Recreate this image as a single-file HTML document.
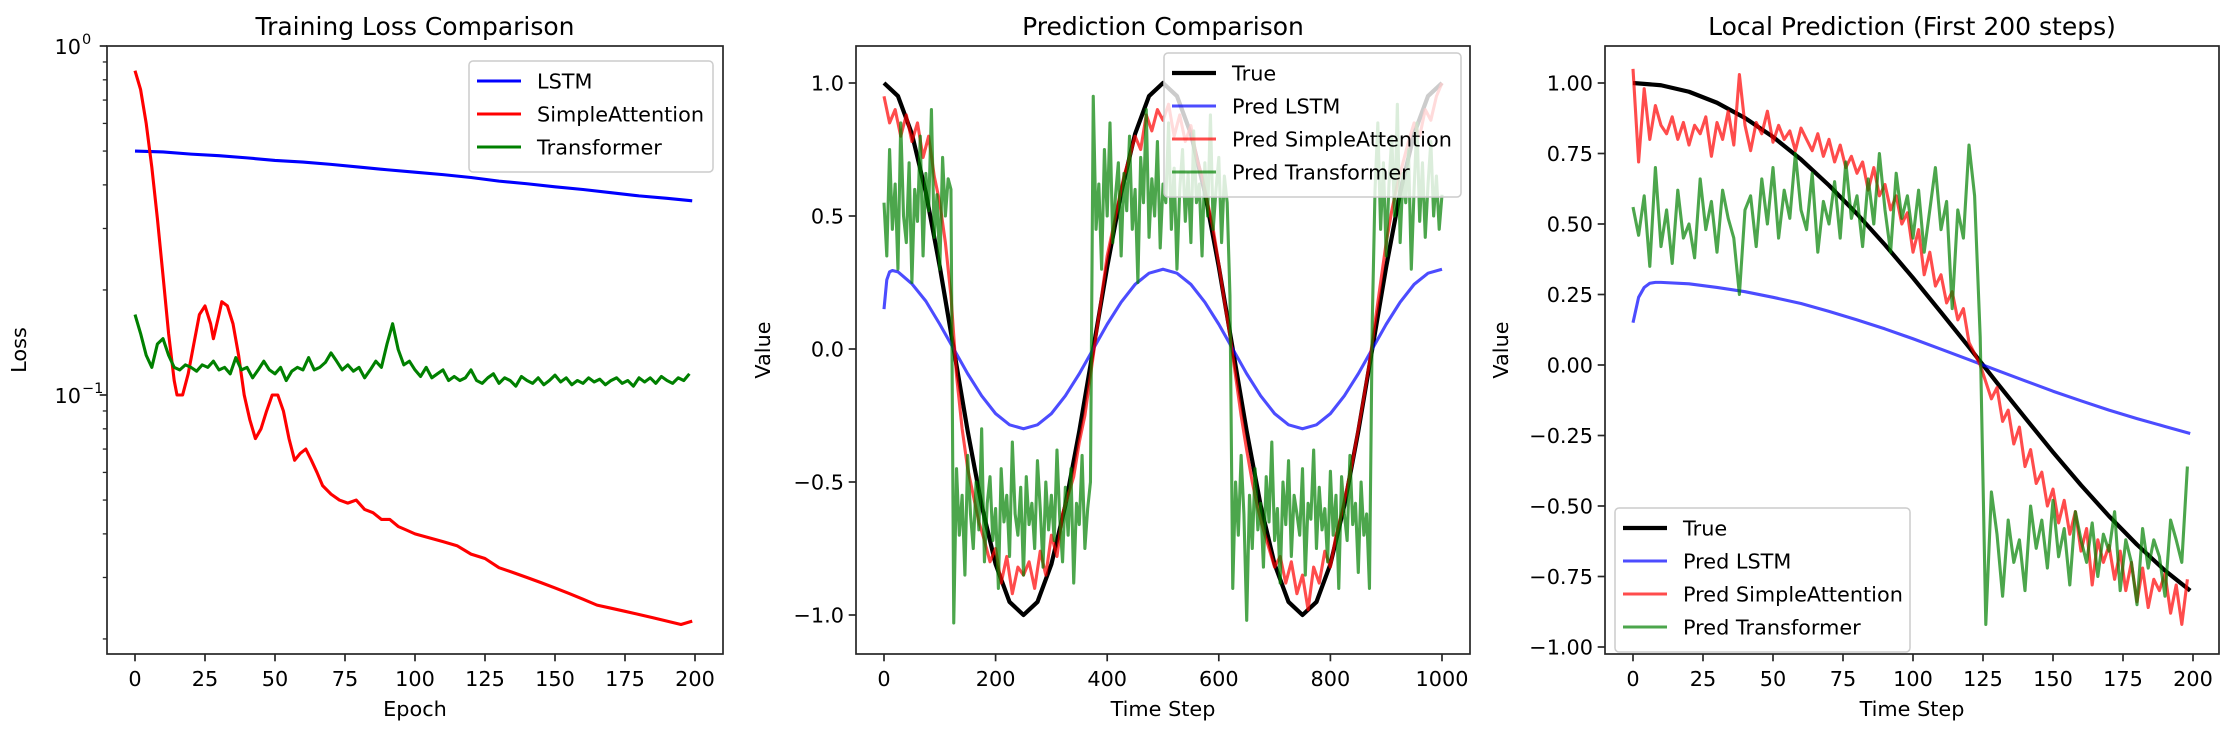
<!DOCTYPE html>
<html><head><meta charset="utf-8"><style>
html,body{margin:0;padding:0;background:#fff;}
svg{display:block;font-family:"DejaVu Sans","Liberation Sans",sans-serif;}
</style></head><body>
<svg id="fig" width="2234" height="732" viewBox="0 0 2234 732" xmlns="http://www.w3.org/2000/svg"></svg>
<script>
// ---------- Panel 1 data ----------
const lstmEpochs=[0,10,20,30,40,50,60,70,80,90,100,110,120,130,140,150,160,170,180,190,199];
const lstmLoss=[0.50,0.497,0.49,0.485,0.478,0.47,0.465,0.458,0.45,0.442,0.435,0.428,0.42,0.41,0.403,0.395,0.388,0.38,0.372,0.366,0.36];
const redEpochs=[0,2,4,6,8,10,12,14,15,17,19,21,23,25,27,28,30,31,33,35,37,39,41,43,45,47,49,51,53,55,57,59,61,63,65,67,70,73,76,79,82,85,88,91,94,97,100,105,110,115,120,125,130,135,140,145,150,155,160,165,170,175,180,185,190,195,199];
const redLoss=[0.85,0.75,0.6,0.45,0.32,0.22,0.15,0.11,0.10,0.10,0.115,0.14,0.17,0.18,0.16,0.145,0.17,0.185,0.18,0.16,0.13,0.10,0.085,0.075,0.08,0.09,0.10,0.10,0.09,0.075,0.065,0.068,0.07,0.065,0.06,0.055,0.052,0.05,0.049,0.05,0.047,0.046,0.044,0.044,0.042,0.041,0.040,0.039,0.038,0.037,0.035,0.034,0.032,0.031,0.030,0.029,0.028,0.027,0.026,0.025,0.0245,0.024,0.0235,0.023,0.0225,0.022,0.0225];
const greenLoss=[0.17,0.15,0.13,0.12,0.14,0.145,0.13,0.12,0.118,0.122,0.12,0.117,0.122,0.12,0.125,0.118,0.12,0.115,0.128,0.118,0.12,0.112,0.118,0.125,0.118,0.115,0.12,0.11,0.117,0.12,0.118,0.128,0.118,0.12,0.124,0.132,0.125,0.118,0.122,0.117,0.12,0.112,0.118,0.125,0.12,0.14,0.16,0.135,0.122,0.125,0.118,0.113,0.12,0.112,0.115,0.118,0.11,0.113,0.11,0.112,0.118,0.11,0.108,0.112,0.115,0.108,0.112,0.11,0.106,0.113,0.11,0.108,0.112,0.107,0.11,0.114,0.109,0.112,0.107,0.11,0.108,0.112,0.109,0.111,0.107,0.11,0.112,0.108,0.11,0.106,0.112,0.109,0.112,0.108,0.113,0.11,0.108,0.112,0.11,0.115];
const greenEpochStep=2;
const p1XTicks=[0,25,50,75,100,125,150,175,200];
// ---------- Panel 2 data ----------
const trueStep2=25;
const trueVals2=[1,0.951,0.809,0.588,0.309,0,-0.309,-0.588,-0.809,-0.951,-1,-0.951,-0.809,-0.588,-0.309,0,0.309,0.588,0.809,0.951,1,0.951,0.809,0.588,0.309,0,-0.309,-0.588,-0.809,-0.951,-1,-0.951,-0.809,-0.588,-0.309,0,0.309,0.588,0.809,0.951,1];
const lstmT2=[0,5,10,15,25,50,75,100,125,150,175,200,225,250,275,300,325,350,375,400,425,450,475,500,525,550,575,600,625,650,675,700,725,750,775,800,825,850,875,900,925,950,975,1000];
const lstmVals2=[0.15,0.26,0.29,0.295,0.29,0.245,0.18,0.093,0,-0.093,-0.176,-0.243,-0.285,-0.30,-0.285,-0.243,-0.176,-0.093,0,0.093,0.176,0.243,0.285,0.30,0.285,0.243,0.176,0.093,0,-0.093,-0.176,-0.243,-0.285,-0.30,-0.285,-0.243,-0.176,-0.093,0,0.093,0.176,0.243,0.285,0.30];
const redStep2=10;
const redVals2=[0.95,0.85,0.90,0.80,0.88,0.78,0.85,0.72,0.80,0.65,0.55,0.40,0.20,
-0.1,-0.3,-0.45,-0.55,-0.65,-0.72,-0.80,-0.75,-0.88,-0.78,-0.92,-0.82,-0.85,
-0.80,-0.90,-0.76,-0.85,-0.70,-0.78,-0.62,-0.55,-0.48,-0.35,-0.25,-0.10,
0.05,0.20,0.35,0.45,0.55,0.65,0.72,0.80,0.75,0.88,0.82,0.90,0.86,0.92,0.80,0.88,0.78,0.84,0.72,0.65,0.55,0.45,0.32,0.18,0.05,
-0.10,-0.25,-0.38,-0.50,-0.60,-0.68,-0.75,-0.82,-0.78,-0.88,-0.80,-0.92,-0.85,-0.98,-0.82,-0.88,-0.76,-0.82,-0.70,-0.62,-0.52,-0.42,-0.30,-0.18,-0.05,
0.10,0.25,0.40,0.52,0.62,0.70,0.78,0.85,0.80,0.90,0.86,0.95,1.0];
const greenStep2=5;
const greenVals2=[0.55,0.35,0.75,0.45,0.62,0.30,0.85,0.50,0.40,0.70,0.25,0.60,0.48,0.80,0.35,0.66,0.52,0.90,0.42,0.58,0.30,0.72,0.50,0.64,0.60,
-1.03,-0.45,-0.70,-0.55,-0.85,-0.40,-0.62,-0.75,-0.50,-0.68,-0.30,-0.80,-0.58,-0.48,-0.72,-0.60,-0.90,-0.45,-0.65,-0.55,-0.78,-0.35,-0.62,-0.70,-0.52,-0.85,-0.48,-0.66,-0.58,-0.75,-0.42,-0.60,-0.82,-0.50,-0.68,-0.55,-0.72,-0.38,-0.64,-0.80,-0.52,-0.70,-0.45,-0.88,-0.58,-0.66,-0.40,-0.75,-0.60,-0.50,
0.95,0.45,0.62,0.30,0.75,0.50,0.85,0.40,0.58,0.70,0.35,0.66,0.52,0.80,0.45,0.60,0.25,0.72,0.55,0.90,0.42,0.64,0.50,0.78,0.38,0.62,0.55,0.85,0.45,0.68,0.30,0.60,0.75,0.48,0.66,0.40,0.82,0.55,0.62,0.35,0.70,0.50,0.88,0.45,0.60,0.72,0.40,0.65,0.55,0.20,
-0.90,-0.50,-0.70,-0.40,-0.62,-1.02,-0.55,-0.75,-0.45,-0.68,-0.58,-0.82,-0.48,-0.65,-0.35,-0.72,-0.60,-0.88,-0.50,-0.66,-0.42,-0.78,-0.55,-0.62,-0.70,-0.45,-0.85,-0.58,-0.64,-0.38,-0.75,-0.52,-0.68,-0.60,-0.80,-0.46,-0.70,-0.55,-0.90,-0.48,-0.62,-0.72,-0.40,-0.66,-0.58,-0.84,-0.50,-0.70,-0.62,-0.90,
0.10,0.60,0.85,0.45,0.70,0.35,0.62,0.80,0.50,0.92,0.40,0.66,0.55,0.75,0.30,0.60,0.85,0.48,0.70,0.42,0.62,0.78,0.50,0.65,0.45,0.58];
const p2XTicks=[0,200,400,600,800,1000];
const p2YTicks=[-1.0,-0.5,0.0,0.5,1.0];
// ---------- Panel 3 data ----------
const trueStep3=10;
const trueVals3=[1,0.992,0.969,0.930,0.876,0.809,0.729,0.637,0.536,0.426,0.309,0.187,0.063,-0.063,-0.187,-0.309,-0.426,-0.536,-0.637,-0.729,-0.80];
const lstmT3=[0,2,4,6,8,10,20,30,40,50,60,70,80,90,100,110,120,130,140,150,160,170,180,190,199];
const lstmVals3=[0.15,0.24,0.275,0.29,0.293,0.293,0.288,0.275,0.26,0.24,0.218,0.19,0.16,0.128,0.093,0.056,0.019,-0.019,-0.056,-0.093,-0.127,-0.16,-0.19,-0.218,-0.243];
const step3=2;
const redVals3=[1.05,0.72,0.98,0.80,0.92,0.85,0.82,0.88,0.80,0.86,0.78,0.85,0.82,0.88,0.74,0.86,0.80,0.90,0.78,1.03,0.85,0.76,0.86,0.82,0.90,0.79,0.85,0.80,0.83,0.76,0.84,0.80,0.76,0.82,0.74,0.80,0.72,0.78,0.70,0.74,0.68,0.72,0.62,0.70,0.60,0.64,0.55,0.60,0.50,0.54,0.40,0.48,0.32,0.40,0.28,0.32,0.22,0.26,0.16,0.20,0.08,0.04,0.00,-0.06,-0.12,-0.08,-0.20,-0.16,-0.28,-0.22,-0.36,-0.30,-0.42,-0.38,-0.50,-0.44,-0.56,-0.48,-0.60,-0.52,-0.66,-0.58,-0.78,-0.62,-0.70,-0.64,-0.76,-0.66,-0.80,-0.70,-0.84,-0.72,-0.86,-0.76,-0.80,-0.74,-0.88,-0.78,-0.92,-0.76];
const greenVals3=[0.56,0.46,0.60,0.35,0.70,0.42,0.55,0.36,0.62,0.45,0.50,0.38,0.66,0.48,0.58,0.40,0.62,0.52,0.45,0.25,0.55,0.60,0.42,0.66,0.50,0.70,0.45,0.62,0.52,0.75,0.55,0.48,0.68,0.40,0.58,0.50,0.65,0.45,0.72,0.52,0.60,0.42,0.66,0.50,0.75,0.55,0.40,0.68,0.52,0.60,0.45,0.62,0.40,0.55,0.70,0.48,0.58,0.20,0.55,0.45,0.78,0.60,0.10,-0.92,-0.45,-0.60,-0.82,-0.55,-0.70,-0.62,-0.80,-0.50,-0.65,-0.55,-0.72,-0.48,-0.68,-0.58,-0.78,-0.52,-0.62,-0.70,-0.56,-0.75,-0.60,-0.66,-0.52,-0.80,-0.62,-0.70,-0.85,-0.58,-0.72,-0.62,-0.68,-0.82,-0.55,-0.62,-0.70,-0.36];
const p3XTicks=[0,25,50,75,100,125,150,175,200];
const p3YTicks=[-1.0,-0.75,-0.5,-0.25,0,0.25,0.5,0.75,1.0];

const NS="http://www.w3.org/2000/svg";
const svg=document.getElementById('fig');
function mk(tag,attrs,parent,text){const e=document.createElementNS(NS,tag);for(const k in attrs)e.setAttribute(k,attrs[k]);if(text!==undefined)e.textContent=text;(parent||svg).appendChild(e);return e;}
function pathD(xs,ys){return xs.map((x,i)=>(i?'L':'M')+x.toFixed(2)+' '+ys[i].toFixed(2)).join(' ');}

const TOP=46,BOT=654;
function linePlot(g,xs,ys,fx,fy,color,w,op,name){
  const p=mk('path',{d:pathD(xs.map(fx),ys.map(fy)),fill:'none',stroke:color,'stroke-width':w,'stroke-opacity':op,'stroke-linejoin':'round'},g);
  
  
  return p;
}
function frame(g,L,R){
  const r=mk('rect',{x:L,y:TOP,width:R-L,height:BOT-TOP,fill:'none',stroke:'#262626','stroke-width':1.7},g);
  
  
}
function xTicks(g,ticks,fx,fmt){
  ticks.forEach(t=>{const x=fx(t);
    mk('line',{x1:x,x2:x,y1:BOT,y2:BOT+7.3,stroke:'#262626','stroke-width':1.7},g);
    const tx=mk('text',{x:x,y:BOT+32,'font-size':20.8,'text-anchor':'middle',fill:'#000'},g,fmt(t));
    
    
  });
}
function yTicks(g,L,ticks,fy,fmt){
  ticks.forEach(t=>{const y=fy(t);
    mk('line',{x1:L,x2:L-7.3,y1:y,y2:y,stroke:'#262626','stroke-width':1.7},g);
    const tx=mk('text',{x:L-12,y:y+7.5,'font-size':20.8,'text-anchor':'end',fill:'#000'},g,fmt(t));
    
    
  });
}
function labels(g,L,R,title,xl,yl,ylx){
  const t=mk('text',{x:(L+R)/2,y:35,'font-size':25,'text-anchor':'middle'},g,title);
  
  
  const x=mk('text',{x:(L+R)/2,y:716,'font-size':20.8,'text-anchor':'middle'},g,xl);
  
  
  const y=mk('text',{x:ylx,y:(TOP+BOT)/2,'font-size':20.8,'text-anchor':'middle',transform:`rotate(-90 ${ylx} ${(TOP+BOT)/2})`},g,yl);
  
  
}
function legend(g,x,y,w,entries){
  const h=entries.length*33+12;
  const r=mk('rect',{x:x,y:y,width:w,height:h,rx:4,fill:'#fff','fill-opacity':0.8,stroke:'#cccccc','stroke-width':1.5},g);
  
  
  entries.forEach((e,i)=>{const cy=y+20+i*33;
    const eg=mk('g',{},g);
    
    
    mk('line',{x1:x+8,x2:x+52,y1:cy,y2:cy,stroke:e[1],'stroke-width':e[2],'stroke-opacity':e[3]},eg);
    mk('text',{x:x+68,y:cy+7.5,'font-size':20.8},eg,e[0]);
  });
}

// ===== Panel 1 =====
(function(){
  const L=107,R=723;
  const g=mk('g',{});
  const fx=e=>135+e*2.8;
  const fy=v=>TOP-Math.log10(v)*349;
  labels(g,L,R,'Training Loss Comparison','Epoch','Loss',26);
  const gEp=greenLoss.map((_,i)=>i*greenEpochStep);
  linePlot(g,lstmEpochs,lstmLoss,fx,fy,'#0000ff',3.1,1,'lstm-loss-line');
  linePlot(g,redEpochs,redLoss,fx,fy,'#ff0000',3.1,1,'simpleattention-loss-line');
  linePlot(g,gEp,greenLoss,fx,fy,'#008000',3.1,1,'transformer-loss-line');
  frame(g,L,R);
  xTicks(g,p1XTicks,fx,t=>String(t));
  [[1,'10','0'],[0.1,'10','−1']].forEach(d=>{const y=fy(d[0]);
    mk('line',{x1:L,x2:L-7.3,y1:y,y2:y,stroke:'#262626','stroke-width':1.7},g);
    const t=mk('text',{x:L-26,y:y+8,'font-size':20.8,'text-anchor':'end'},g,d[1]);
    
    
    mk('text',{x:L-25,y:y-2,'font-size':14.5,'text-anchor':'start'},g,d[2]);
  });
  [0.02,0.03,0.04,0.05,0.06,0.07,0.08,0.09,0.2,0.3,0.4,0.5,0.6,0.7,0.8,0.9].forEach(v=>{const y=fy(v);
    mk('line',{x1:L,x2:L-4.2,y1:y,y2:y,stroke:'#262626','stroke-width':1.3},g);});
  legend(g,469,61,244,[['LSTM','#0000ff',3.1,1],['SimpleAttention','#ff0000',3.1,1],['Transformer','#008000',3.1,1]]);
})();

// ===== Panel 2 =====
(function(){
  const L=856,R=1470;
  const g=mk('g',{});
  const fx=t=>884+t*0.558;
  const fy=v=>83+(1-v)*266;
  labels(g,L,R,'Prediction Comparison','Time Step','Value',770);
  linePlot(g,trueVals2.map((_,i)=>i*trueStep2),trueVals2,fx,fy,'#000',4.2,1,'true-line');
  linePlot(g,lstmT2,lstmVals2,fx,fy,'#0000ff',3.1,0.7,'pred-lstm-line');
  linePlot(g,redVals2.map((_,i)=>i*redStep2),redVals2,fx,fy,'#ff0000',3.1,0.7,'pred-simpleattention-line');
  linePlot(g,greenVals2.map((_,i)=>i*greenStep2),greenVals2,fx,fy,'#008000',3.1,0.7,'pred-transformer-line');
  frame(g,L,R);
  xTicks(g,p2XTicks,fx,t=>String(t));
  yTicks(g,L,p2YTicks,fy,t=>(t<0?'−':'')+Math.abs(t).toFixed(1));
  legend(g,1164,53,297,[['True','#000',4.2,1],['Pred LSTM','#0000ff',3.1,0.7],['Pred SimpleAttention','#ff0000',3.1,0.7],['Pred Transformer','#008000',3.1,0.7]]);
})();

// ===== Panel 3 =====
(function(){
  const L=1605,R=2219;
  const g=mk('g',{});
  const fx=t=>1633+t*2.8;
  const fy=v=>83+(1-v)*282;
  labels(g,L,R,'Local Prediction (First 200 steps)','Time Step','Value',1508);
  linePlot(g,trueVals3.map((_,i)=>Math.min(i*trueStep3,199)),trueVals3,fx,fy,'#000',4.2,1,'true-line');
  linePlot(g,lstmT3,lstmVals3,fx,fy,'#0000ff',3.1,0.7,'pred-lstm-line');
  linePlot(g,redVals3.map((_,i)=>i*step3),redVals3,fx,fy,'#ff0000',3.1,0.7,'pred-simpleattention-line');
  linePlot(g,greenVals3.map((_,i)=>i*step3),greenVals3,fx,fy,'#008000',3.1,0.7,'pred-transformer-line');
  frame(g,L,R);
  xTicks(g,p3XTicks,fx,t=>String(t));
  yTicks(g,L,p3YTicks,fy,t=>(t<0?'−':'')+Math.abs(t).toFixed(2));
  legend(g,1615,508,295,[['True','#000',4.2,1],['Pred LSTM','#0000ff',3.1,0.7],['Pred SimpleAttention','#ff0000',3.1,0.7],['Pred Transformer','#008000',3.1,0.7]]);
})();
</script>
</body></html>
